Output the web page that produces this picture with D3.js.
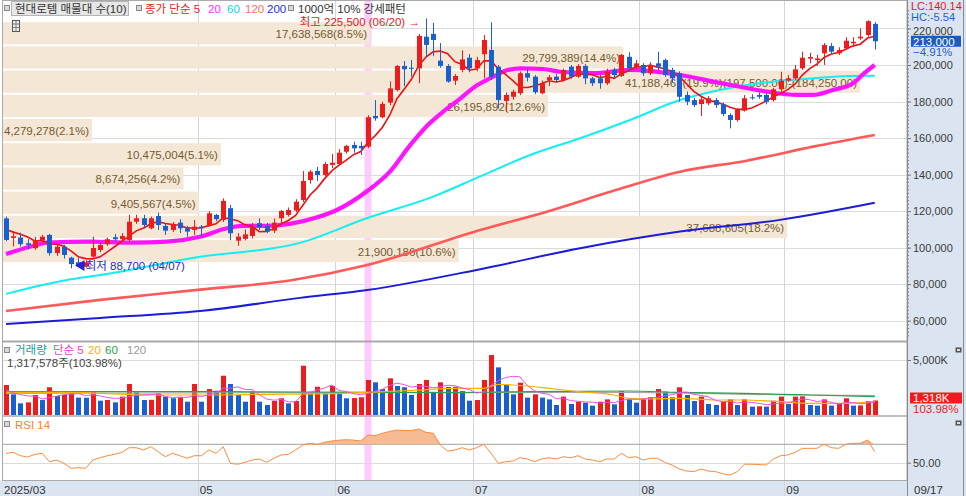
<!DOCTYPE html>
<html>
<head>
<meta charset="utf-8">
<script src="https://cdn.jsdelivr.net/npm/d3@7"></script>
<style>
  body { margin: 0; background: #fff; }
  svg text { font-family: "Liberation Sans", "Noto Sans CJK KR", sans-serif; }
</style>
</head>
<body>
<svg id="chart" width="966" height="496"></svg>
<script>
// ---- data (daily, 2025/03/25 .. 2025/09/17) ----
const open = [116000,105300,105500,102400,99700,104200,107000,97000,100500,94500,92000,89600,95100,98700,101900,105700,104600,104200,114200,116100,
  110600,117300,111900,109700,113700,110600,109700,111500,112400,117900,115200,121600,103800,104800,106400,113400,111900,109300,116100,117900,
  120300,126100,137000,142000,139800,145300,145800,152500,156200,155700,155300,172100,171400,179400,186300,199500,198500,198200,215500,217000,
  202400,199500,191400,197300,204000,198200,205900,208200,199100,180300,182600,184500,195500,193600,184500,191800,193600,191800,199100,193600,
  199500,192700,192700,190000,197300,194000,204500,199100,200000,195500,200900,202700,197300,195500,183600,180800,178600,179000,180800,178500,
  172600,169900,175000,182300,183600,183600,180800,186700,191400,192700,198200,203500,202700,206400,210400,206400,209100,211900,214600,216400,222500];
const high = [117000,108800,108200,104700,105900,107000,107500,101500,101500,95000,94400,93000,106000,103000,105500,107500,108000,118000,118000,118000,
  117000,119200,113500,114000,115500,112000,115100,112400,120000,118500,127000,123400,108000,110000,113500,116100,113500,116000,120600,122000,
  126500,141900,142500,144200,147000,151300,153900,156300,158000,158000,172500,180800,179900,191100,200000,202200,202700,217000,225500,223000,
  212000,200500,195000,208000,206000,204500,216400,223400,200000,185000,186500,196500,198000,194500,191500,194500,195000,198000,200000,200500,
  200600,193500,194500,198000,198500,206000,207000,202700,201000,201500,207300,203500,198500,196500,185500,182000,182500,183000,182000,179500,
  173500,176500,183500,184000,185000,184500,187500,196300,194500,200000,207300,206700,205500,212000,212000,209700,215200,215200,220100,224500,223500];
const low = [103500,100600,100600,99000,98800,103000,95600,95500,94000,88700,89500,89000,94500,97500,101000,103500,103500,103300,113000,110500,
  110000,109700,107000,108500,108000,106000,107000,106000,111500,114500,114000,104100,101000,104000,105000,109700,108000,108000,113000,117000,
  119500,125000,135000,136500,139000,143500,145300,151500,152000,150700,154500,169500,170800,178000,185500,188500,193600,190000,204500,204800,
  198500,190300,189000,196000,196000,196500,192700,191800,176200,174400,181000,183500,191000,184000,184000,188500,190500,191000,192500,193000,
  189500,188500,187000,189000,192500,193500,196500,197500,194000,194500,197000,193500,190500,179900,178000,177000,172100,178000,176500,172000,
  165300,169000,174500,181000,181500,178500,180000,185400,190900,191800,197300,200900,199500,200000,206000,205500,208600,210000,213700,215500,208500];
const close = [104200,106200,101900,101500,104200,106000,97000,100500,96000,91000,90500,92000,99800,101500,104600,104600,106400,114200,116100,112400,
  116100,112400,109300,113000,110600,108800,111500,110600,118800,115600,125600,107900,106000,107300,111200,111200,108800,113700,120100,120600,
  125200,136500,141600,139800,145800,146500,152000,155700,154400,154400,171400,170800,178700,187200,199500,197600,197900,215900,211000,213700,
  199500,190900,194000,203100,198200,202700,213700,193600,180800,183600,185400,195500,193100,185100,190000,193300,191800,197300,193600,199500,
  192700,190000,190000,196300,194500,205500,198200,200900,195500,200000,199100,194500,192700,182600,179900,178100,181200,181800,178100,173200,
  169900,175400,181800,181800,182600,179900,186700,191400,192700,197600,204000,204400,203600,210900,207300,208200,213300,212700,215500,224000,213000];

// volume in thousand shares
const volume = [2727,1880,1060,1150,1820,1360,2520,1730,1820,2060,1580,1570,2180,1300,1360,1150,1670,2820,2060,1360,
  1380,1970,1670,1520,1610,1210,2820,1210,2360,2210,3570,2820,1820,1210,2120,1210,910,1270,1520,1060,
  1270,4480,1970,2570,1970,2640,1970,1520,1540,1610,3180,2970,2360,3330,2640,2520,1820,2820,3180,2030,
  2970,2540,2560,2180,1300,1360,3180,5450,4330,2730,1880,2940,1580,1880,1580,1420,910,1670,1000,1210,
  1120,850,1210,1420,970,2180,1420,1120,1520,1610,2360,2120,1610,2520,1820,1270,1670,1000,910,1210,
  1420,910,1420,760,790,760,1300,1670,1000,1670,1690,910,850,1420,850,1000,1520,850,870,1267.146,1317.578];

// RSI 14
const rsi = [60.2,61.3,57.6,56.2,59.1,60.2,51.1,52.9,49.3,43.9,44.6,43.9,52.9,55.4,57.6,59.1,61.3,66.3,66.3,63.8,
  67.4,62.0,56.5,60.2,57.6,54.8,57.6,57.6,63.8,60.2,67.4,49.3,48.3,50.4,52.9,54.0,50.4,54.8,58.4,59.1,
  63.8,69.2,71.1,70.0,72.2,73.6,74.5,75.0,74.6,73.6,80.1,79.5,82.0,84.0,85.5,85.0,85.0,86.6,83.0,82.0,
  69.2,62.5,63.8,66.3,63.8,66.3,70.0,60.2,49.3,51.1,51.8,55.4,54.0,51.1,54.0,55.4,54.0,56.5,55.4,57.6,
  54.0,52.9,51.1,54.0,54.0,60.2,55.4,56.5,52.9,54.8,54.8,50.4,47.5,43.2,41.0,40.3,43.2,41.0,40.3,38.0,
  36.6,40.3,48.3,48.3,48.0,47.5,54.0,57.6,58.4,61.3,65.6,65.6,65.6,70.0,66.3,65.6,70.0,71.1,71.1,74.7,62.0];

// moving averages as [bar index, value]
const ma5Lead = [110000, 108500, 107300, 105800];
const ma20 = [[0,96500],[3.7,100900],[5.7,102700],[11.6,103300],[17.5,102700],[22.2,103300],[26.8,106000],[30.5,110600],[32.7,111900],[36,111900],
  [39.2,113000],[43,116600],[45.7,120600],[49.9,131000],[53,141500],[55.8,156000],[58.1,166500],[60.4,174500],[62.7,181500],[65.1,189000],
  [67.3,193600],[68.6,196300],[71,198200],[74.2,197800],[76.5,196300],[81.1,195500],[86.2,197300],[93.1,194500],[97.7,190900],[101.4,188100],
  [105.1,185400],[109.3,183600],[111.5,183600],[114.2,186300],[117,190000],[118.4,195000],[120,200000]];
const ma60 = [[0,74700],[8.4,82300],[13,85000],[26.8,95000],[40.6,102600],[49.9,116200],[59,127900],[65.5,139000],[72.4,150700],[79.3,159900],
  [86.2,169900],[93.1,180800],[98.6,186300],[104.6,190300],[111.5,192700],[116.2,194000],[120,194100]];
const ma120 = [[0,65300],[13,71400],[26.8,77000],[39.6,82300],[49.9,90500],[65.5,109700],[74.7,119700],[83.8,131000],[93.1,141600],[102.3,147600],
  [111.5,155300],[120,161700]];
const ma200 = [[0,58200],[13,61500],[26.8,65300],[40.6,72500],[49.9,76800],[65.5,88200],[79.3,99700],[93.1,108800],[106.9,115200],[120,124600]];

const volMa5Lead = [2270, 2000, 1850, 1730];
const volMa20 = [[0,2060],[8,2060],[20,1820],[28,1820],[36,1880],[45,1940],[50,2060],[57,2270],[62,2420],[66,2424],[68,2788],[70,2727],
  [75,2424],[79,2121],[84,1818],[86,1515],[89,1455],[93,1515],[98,1364],[102,1364],[107,1212],[111,1061],[116,1061],[120,1212]];
const volMa60 = [[0,2121],[30,2121],[50,2060],[62,2030],[70,2100],[86,2182],[93,2060],[102,1970],[107,1880],[111,1818],[120,1667]];
const volMa120 = [[0,1970],[40,2030],[66,2060],[86,2060],[102,1880],[111,1818],[120,1760]];

// price-volume profile (매물대), 10 bins from top to bottom
const profileEdges = [224000,210750,197500,184250,171000,157750,144500,131250,118000,104750,91500];
const profileVol = [17638568,29799389,41188467,26195892,4279278,10475004,8674256,9405567,37688605,21900186];
const profilePct = [8.5,14.4,19.9,12.6,2.1,5.1,4.2,4.5,18.2,10.6];

const monthLabels = ["2025/03","05","06","07","08","09"];
const monthStart = [0,27,46,65,88,108];
const lastDate = "09/17";
const priceTicks = [60000,80000,100000,120000,140000,160000,180000,200000,220000];
const signalBar = 50;            // 1000억 10% 강세패턴
const maxBar = 58, minBar = 9;

// ---- layout ----
const svg = d3.select("#chart");
const PL = 3, PR = 907;
const priceTop = 1, priceBot = 341, volBot = 415.5, rsiBot = 480.5;
const upCol = "#ee1c1c", downCol = "#1a5fd0";

const n = close.length;
const x = d3.scaleBand().domain(d3.range(n)).range([2.4, 878.4]).paddingInner(0.3).paddingOuter(0.15);
const bw = x.bandwidth();
const xc = d3.scaleLinear().domain([0, n - 1]).range([x(0) + bw / 2, x(n - 1) + bw / 2]);
const slotLeft = i => x(i) - x.step() * x.paddingInner() / 2;

const y = d3.scaleLinear().domain([60000, 200000]).range([320.7, 65]);
const yv = d3.scaleLinear().domain([0, 5000]).range([415, 360]);
const yr = d3.scaleLinear().domain([50, 70]).range([462.7, 444.3]);

// simple moving average over a series, lead values fill the first bars
function sma(vals, len, lead) {
  return vals.map((v, i) => i < len - 1 ? [i, lead[i]] : [i, d3.mean(vals.slice(i - len + 1, i + 1))]);
}

// right axis column and x-axis strip
svg.append("rect").attr("x", PR).attr("y", 0).attr("width", 966 - PR).attr("height", 496).attr("fill", "#dbe5f1");
svg.append("rect").attr("x", 0).attr("y", rsiBot).attr("width", PR).attr("height", 496 - rsiBot).attr("fill", "#dbe5f1");

svg.append("defs").append("clipPath").attr("id", "clipPrice")
  .append("rect").attr("x", PL).attr("y", priceTop).attr("width", PR - PL).attr("height", priceBot - priceTop);

// signal highlight column
svg.append("rect").attr("x", x(signalBar) - 1).attr("y", 0).attr("width", bw + 2).attr("height", rsiBot)
  .attr("fill", "#ffccff");

// horizontal grid
const grid = svg.append("g").attr("stroke", "#dcdcdc").attr("stroke-width", 1);
priceTicks.forEach(t => {
  if (y(t) > priceTop) grid.append("line").attr("x1", PL).attr("x2", PR).attr("y1", Math.round(y(t)) + 0.5).attr("y2", Math.round(y(t)) + 0.5);
});
grid.append("line").attr("x1", PL).attr("x2", PR).attr("y1", Math.round(yv(5000)) + 0.5).attr("y2", Math.round(yv(5000)) + 0.5);
grid.append("line").attr("x1", PL).attr("x2", PR).attr("y1", Math.round(yr(50)) + 0.5).attr("y2", Math.round(yr(50)) + 0.5);

// month grid
monthStart.forEach((m, k) => {
  if (k === 0) return;
  const gx = Math.round(slotLeft(m)) + 0.5;
  svg.append("line").attr("x1", gx).attr("x2", gx).attr("y1", priceTop).attr("y2", 496)
    .attr("stroke", "#d6d6d6");
});

// ---- price panel ----
const price = svg.append("g").attr("clip-path", "url(#clipPrice)");

// volume profile bands
const xp = d3.scaleLinear().domain([0, d3.max(profileVol)]).range([PL, 860]);
const maxBin = profileVol.indexOf(d3.max(profileVol));
profileVol.forEach((v, k) => {
  const y0 = y(profileEdges[k]), y1 = y(profileEdges[k + 1]);
  price.append("rect").attr("x", PL).attr("y", y0 + 1).attr("width", xp(v) - PL).attr("height", y1 - y0 - 2)
    .attr("fill", "#f5e7d6");
  let label = d3.format(",")(v) + "(" + profilePct[k].toFixed(1) + "%)";
  if (k === maxBin) label += "(" + d3.format(",.2f")(profileEdges[k]) + ")-(" + d3.format(",.2f")(profileEdges[k + 1]) + ")";
  price.append("text").attr("x", xp(v) - 3).attr("y", (y0 + y1) / 2 + 5).attr("text-anchor", "end")
    .attr("font-size", "11.5px").attr("fill", "#735c30").text(label);
});

// moving averages
const line = d3.line().x(d => xc(d[0])).y(d => y(d[1])).curve(d3.curveMonotoneX);
price.append("path").attr("d", line(ma200)).attr("fill", "none").attr("stroke", "#1c1cd6").attr("stroke-width", 2);
price.append("path").attr("d", line(ma120)).attr("fill", "none").attr("stroke", "#ff5a5a").attr("stroke-width", 2.6);
price.append("path").attr("d", line(ma60)).attr("fill", "none").attr("stroke", "#14eef2").attr("stroke-width", 2);
price.append("path").attr("d", line(ma20)).attr("fill", "none").attr("stroke", "#ff14ff").attr("stroke-width", 4.2);
price.append("path").attr("d", d3.line().x(d => xc(d[0])).y(d => y(d[1]))(sma(close, 5, ma5Lead)))
  .attr("fill", "none").attr("stroke", "#ee1010").attr("stroke-width", 1.6);

// candles
const candles = price.selectAll("g.candle").data(close).enter().append("g")
  .attr("fill", (d, i) => d >= open[i] ? upCol : downCol)
  .attr("stroke", (d, i) => d >= open[i] ? upCol : downCol);
candles.append("line")
  .attr("x1", (d, i) => Math.round(xc(i)) + 0.5).attr("x2", (d, i) => Math.round(xc(i)) + 0.5)
  .attr("y1", (d, i) => y(high[i])).attr("y2", (d, i) => y(low[i])).attr("stroke-width", 1);
candles.append("rect")
  .attr("x", (d, i) => Math.round(xc(i)) - 2).attr("width", 5)
  .attr("y", (d, i) => y(Math.max(open[i], d)))
  .attr("height", (d, i) => Math.max(1, Math.abs(y(open[i]) - y(d))))
  .attr("stroke", "none");

// high / low markers
price.append("text").attr("x", xc(maxBar) - 6).attr("y", y(high[maxBar]) + 8).attr("text-anchor", "end")
  .attr("font-size", "11.5px").attr("fill", "#e8141c")
  .text("최고 " + d3.format(",")(high[maxBar]) + " (06/20) →");
price.append("text").attr("x", xc(minBar) + 3).attr("y", y(low[minBar]) + 2)
  .attr("font-size", "11.5px").attr("fill", "#1e28d2")
  .text("◀최저 " + d3.format(",")(low[minBar]) + " (04/07)");

// ---- volume panel ----
const vol = svg.append("g");
vol.selectAll("rect").data(volume).enter().append("rect")
  .attr("x", (d, i) => Math.round(xc(i)) - 2).attr("width", 5)
  .attr("y", d => yv(d)).attr("height", d => yv(0) - yv(d))
  .attr("fill", (d, i) => i === 0 || d >= volume[i - 1] ? upCol : downCol);
const vline = d3.line().x(d => xc(d[0])).y(d => yv(d[1])).curve(d3.curveMonotoneX);
vol.append("path").attr("d", vline(volMa120)).attr("fill", "none").attr("stroke", "#a8a8a8").attr("stroke-width", 1.2);
vol.append("path").attr("d", vline(volMa60)).attr("fill", "none").attr("stroke", "#2ca050").attr("stroke-width", 1.2);
vol.append("path").attr("d", vline(volMa20)).attr("fill", "none").attr("stroke", "#f5b400").attr("stroke-width", 1.2);
vol.append("path").attr("d", d3.line().x(d => xc(d[0])).y(d => yv(d[1]))(sma(volume, 5, volMa5Lead)))
  .attr("fill", "none").attr("stroke", "#f050e6").attr("stroke-width", 1);

// ---- RSI panel ----
const rs = svg.append("g");
rs.append("line").attr("x1", PL).attr("x2", PR).attr("y1", yr(70)).attr("y2", yr(70)).attr("stroke", "#a0a0a0");
rs.append("path")
  .attr("d", d3.area().x((d, i) => xc(i)).y0(yr(70)).y1(d => yr(Math.max(70, d)))(rsi))
  .attr("fill", "#f6bb92");
rs.append("path").attr("d", d3.line().x((d, i) => xc(i)).y(d => yr(d))(rsi))
  .attr("fill", "none").attr("stroke", "#ff8a3c").attr("stroke-width", 1);

// ---- frames ----
const frame = svg.append("g").attr("fill", "none").attr("stroke", "#a9a9a9");
frame.append("rect").attr("x", 2.5).attr("y", 0.5).attr("width", PR - 2.5).attr("height", rsiBot - 0.5);
frame.append("line").attr("x1", 2.5).attr("x2", PR).attr("y1", priceBot + 0.5).attr("y2", priceBot + 0.5).attr("stroke-width", 2);
frame.append("line").attr("x1", 2.5).attr("x2", PR).attr("y1", volBot + 0.5).attr("y2", volBot + 0.5).attr("stroke-width", 1.5);
frame.append("line").attr("x1", 963.5).attr("x2", 963.5).attr("y1", 0).attr("y2", 496).attr("stroke", "#8a8a8a");

// ---- right axes ----
const axisP = svg.append("g").attr("transform", `translate(${PR},0)`)
  .call(d3.axisRight(y).tickValues(priceTicks).tickFormat(d3.format(",")).tickSize(4).tickPadding(2));
svg.append("g").attr("transform", `translate(${PR},0)`)
  .call(d3.axisRight(y).tickValues(d3.range(52000, 232000, 2000)).tickFormat("").tickSize(2))
  .call(g => g.select(".domain").remove());
axisP.select(".domain").remove();
axisP.selectAll("text").attr("font-size", "11px").attr("fill", "#3a3a3a").attr("font-family", "Liberation Sans");
// the top label sits under the LC/HC readout, as in the reference
axisP.selectAll(".tick").filter(d => d === 220000).select("text").attr("dy", "0.55em");
svg.selectAll("g.tick line").attr("stroke", "#777");

const axisV = svg.append("g").attr("transform", `translate(${PR},0)`)
  .call(d3.axisRight(yv).tickValues([5000]).tickFormat(d => d3.format(",")(d) + "K").tickSize(4).tickPadding(2));
const axisR = svg.append("g").attr("transform", `translate(${PR},0)`)
  .call(d3.axisRight(yr).tickValues([50]).tickFormat(d3.format(".2f")).tickSize(4).tickPadding(2));
[axisV, axisR].forEach(a => {
  a.select(".domain").remove();
  a.selectAll("text").attr("font-size", "11px").attr("fill", "#3a3a3a").attr("font-family", "Liberation Sans");
  a.selectAll("line").attr("stroke", "#777");
});
svg.append("line").attr("x1", PR + 0.5).attr("x2", PR + 0.5).attr("y1", 0).attr("y2", 496).attr("stroke", "#8a8a8a");

// LC / HC readout
svg.append("text").attr("x", 911).attr("y", 10).attr("font-size", "11px").attr("fill", "#e8141c").text("LC:140.14");
svg.append("text").attr("x", 911).attr("y", 21).attr("font-size", "11px").attr("fill", "#1e5fd6").text("HC:-5.54");

// last price box
const last = close[n - 1];
svg.append("rect").attr("x", 911).attr("y", y(last) - 5.5).attr("width", 50).attr("height", 11).attr("fill", "#1b5cc4");
svg.append("text").attr("x", 913).attr("y", y(last) + 4.5).attr("font-size", "11.5px").attr("fill", "#fff")
  .text(d3.format(",")(last));
svg.append("text").attr("x", 913).attr("y", y(last) + 15).attr("font-size", "11.5px").attr("fill", "#1e5fd6")
  .text(d3.format(".2f")((last / close[n - 2] - 1) * 100) + "%");

// last volume box
const lastVol = volume[n - 1];
svg.append("rect").attr("x", 910).attr("y", 392.5).attr("width", 52).attr("height", 11).attr("fill", "#ee1c1c");
svg.append("text").attr("x", 913).attr("y", 402).attr("font-size", "11.5px").attr("fill", "#fff")
  .text(d3.format(",.0f")(lastVol) + "K");
svg.append("text").attr("x", 913).attr("y", 413).attr("font-size", "11.5px").attr("fill", "#ee1c1c")
  .text((lastVol / volume[n - 2] * 100).toFixed(2) + "%");

// small panel icons
[347, 420].forEach(iy => {
  svg.append("rect").attr("x", 955.5).attr("y", iy + 0.5).attr("width", 6).attr("height", 5).attr("fill", "#555");
  svg.append("rect").attr("x", 957).attr("y", iy + 2).attr("width", 3).attr("height", 2).attr("fill", "#ddd");
});

// ---- x axis labels ----
monthStart.forEach((m, k) => {
  svg.append("text").attr("x", k === 0 ? 4 : slotLeft(m) + 2).attr("y", 494)
    .attr("font-size", "11.5px").attr("fill", "#333").text(monthLabels[k]);
});
svg.append("text").attr("x", 914).attr("y", 494).attr("font-size", "11.5px").attr("fill", "#333").text(lastDate);

// ---- legends ----
function icon(ix, iy) {
  svg.append("rect").attr("x", ix + 0.5).attr("y", iy + 0.5).attr("width", 5).attr("height", 5)
    .attr("fill", "#d8d8d8").attr("stroke", "#8a8a8a");
}
function legendItems(items, ly) {
  items.forEach(([t, c, lx]) => svg.append("text").attr("x", lx).attr("y", ly)
    .attr("font-size", "11.5px").attr("fill", c).text(t));
}
icon(4, 5);
svg.append("rect").attr("x", 11.5).attr("y", 1.5).attr("width", 117).attr("height", 14)
  .attr("fill", "#e6e6e6").attr("stroke", "#b4b4b4");
svg.append("text").attr("x", 15).attr("y", 12.5).attr("font-size", "11.5px").attr("fill", "#333").text("현대로템 매물대 수(10)");
icon(136, 5);
legendItems([["종가 단순 5", "#ee2020", 145], ["20", "#ff30ff", 208], ["60", "#10d0e8", 227],
  ["120", "#ff6a6a", 245], ["200", "#2a2ae0", 267]], 12.5);
icon(288, 5);
svg.append("text").attr("x", 298).attr("y", 12.5).attr("font-size", "11.5px").attr("fill", "#333").text("1000억 10% 강세패턴");

// grid icon under the legend
const gi = svg.append("g").attr("transform", "translate(12.5,20.5)");
gi.append("rect").attr("width", 7).attr("height", 11).attr("fill", "#eee").attr("stroke", "#555");
[3.5, 7].forEach(v => gi.append("line").attr("x1", 0).attr("x2", 7).attr("y1", v).attr("y2", v).attr("stroke", "#777"));
gi.append("line").attr("x1", 3.5).attr("x2", 3.5).attr("y1", 0).attr("y2", 11).attr("stroke", "#777");

icon(4, 347);
legendItems([["거래량", "#2a9a9a", 15], ["단순 5", "#e83ce0", 53], ["20", "#f5b400", 88],
  ["60", "#2ca050", 105], ["120", "#999", 127]], 354);
svg.append("text").attr("x", 7).attr("y", 367).attr("font-size", "11.5px").attr("fill", "#444")
  .text(d3.format(",")(Math.round(lastVol * 1000)) + "주(" + (lastVol / volume[n - 2] * 100).toFixed(2) + "%)");

icon(4, 421);
svg.append("text").attr("x", 15).attr("y", 429).attr("font-size", "11.5px").attr("fill", "#ff8030").text("RSI 14");
</script>
</body>
</html>
